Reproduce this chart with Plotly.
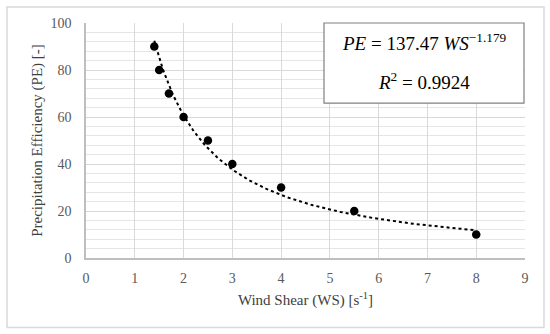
import numpy as np
import plotly.graph_objects as go

ws = [1.4, 1.5, 1.7, 2.0, 2.5, 3.0, 4.0, 5.5, 8.0]
pe = [90, 80, 70, 60, 50, 40, 30, 20, 10]
coef_a = 137.47
coef_b = -1.179
r2 = 0.9924

x_fit = np.linspace(min(ws), max(ws), 200)
y_fit = coef_a * x_fit ** coef_b

serif = "'Liberation Serif', 'DejaVu Serif', serif"

fig = go.Figure()
fig.add_trace(go.Scatter(x=x_fit, y=y_fit, mode="lines",
                         line=dict(color="black", width=2, dash="dot"),
                         hoverinfo="skip", showlegend=False))
fig.add_trace(go.Scatter(x=ws, y=pe, mode="markers",
                         marker=dict(color="black", size=8.5),
                         showlegend=False))

fig.update_layout(
    width=550, height=334,
    margin=dict(l=86, r=25, t=23, b=76, autoexpand=False),
    paper_bgcolor="white", plot_bgcolor="white",
    font=dict(family=serif, color="#595959", size=13),
    xaxis=dict(range=[0, 9], dtick=1, tick0=0, showgrid=True, gridcolor="#d9d9d9",
               gridwidth=1, zeroline=False, showline=True, linecolor="#bfbfbf",
               linewidth=1.5, ticks="", ticklabelstandoff=6, automargin=False,
               tickfont=dict(family=serif, size=14, color="#595959"),
               title=dict(text="Wind Shear (WS) [s<sup>-1</sup>]",
                          font=dict(family=serif, size=15, color="#404040"), standoff=10)),
    yaxis=dict(range=[0, 100], dtick=20, tick0=0, showgrid=True, gridcolor="#d9d9d9",
               gridwidth=1, zeroline=False, showline=True, linecolor="#bfbfbf",
               linewidth=1.5, ticks="", ticklabelstandoff=10, automargin=False,
               tickfont=dict(family=serif, size=14, color="#595959"),
               minor=dict(dtick=4, showgrid=True, gridcolor="#e6e6e6", gridwidth=1),
               title=dict(text="Precipitation Efficiency (PE) [-]",
                          font=dict(family=serif, size=15, color="#404040"), standoff=4)),
)

fig.add_shape(type="rect", xref="paper", yref="paper",
              x0=-79/439, x1=(544-86)/439, y0=(257.7-327)/234.7, y1=(257.7-7)/234.7,
              line=dict(color="#d9d9d9", width=1.5), fillcolor="rgba(0,0,0,0)", layer="below")

fig.add_shape(type="rect", xref="paper", yref="paper",
              x0=(324-86)/439, x1=(524-86)/439, y0=(257.7-103)/234.7, y1=1.0,
              line=dict(color="#808080", width=1.2), fillcolor="white", layer="above")

fig.add_annotation(xref="paper", yref="paper", x=(424-86)/439, y=(257.7-42)/234.7,
                   xanchor="center", yanchor="middle",
                   text=f"<i>PE</i> = {coef_a} <i>WS</i><sup>\u2212{abs(coef_b)}</sup>",
                   showarrow=False, font=dict(family=serif, size=19, color="black"))
fig.add_annotation(xref="paper", yref="paper", x=(424-86)/439, y=(257.7-81)/234.7,
                   xanchor="center", yanchor="middle",
                   text=f"<i>R</i><sup>2</sup> = {r2}",
                   showarrow=False, font=dict(family=serif, size=19, color="black"))

fig.write_html("out.html", config={"displayModeBar": False},
               post_script="document.body.style.margin='0';")
